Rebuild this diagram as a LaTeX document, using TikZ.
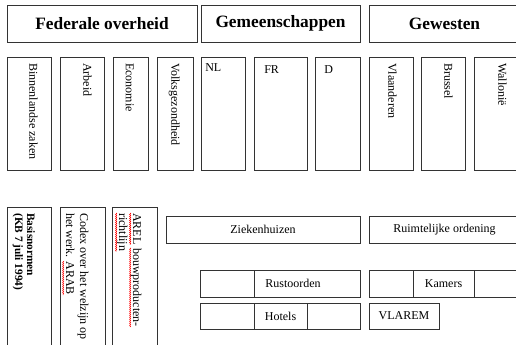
\documentclass[tikz,border=0pt]{standalone}
\usepackage{fontspec}
\setmainfont{Liberation Serif}
\usetikzlibrary{positioning,calc,fit,decorations.pathmorphing}

\tikzset{
  vak/.style={draw=black!80, line width=0.75pt, inner sep=0pt},
  kop/.style={font=\fontsize{13}{15}\selectfont\bfseries},
  tekst/.style={font=\fontsize{9}{11}\selectfont, inner sep=0pt},
  vtekst/.style={font=\fontsize{9}{10.5}\selectfont, rotate=-90, anchor=north west, inner sep=0pt},
  regel/.style={vtekst, text height=6.5pt, text depth=2pt},
  krul/.style={red, line width=0.4pt, decorate, decoration={zigzag, amplitude=0.4pt, segment length=1.5pt}}
}

\begin{document}
\begin{tikzpicture}[x=0.75pt, y=-0.75pt]
    \useasboundingbox (0,0) rectangle (516,344);
    \clip (0,0) rectangle (516,344);

    % Overheden
    \node[vak, fit={(7,5) (197,42)}] (federaal) {};
    \node[vak, fit={(201,5) (360,42)}] (gemeenschap) {};
    \node[vak, fit={(369,5) (520,42)}] (gewest) {};
    \node[kop] (federaaltekst) at (federaal.center) {Federale overheid};
    \node[kop] (gemeenschaptekst) at (gemeenschap.center) {Gemeenschappen};
    \node[kop] (gewesttekst) at (gewest.center) {Gewesten};

    % Bevoegdheden (kolommen)
    \node[vak, fit={(7,57) (51,170)}] (binnenland) {};
    \node[vak, fit={(60,57) (104,170)}] (arbeid) {};
    \node[vak, fit={(113,57) (148,170)}] (economie) {};
    \node[vak, fit={(157,57) (193,170)}] (volksgezondheid) {};
    \node[vak, fit={(201,57) (245,170)}] (nl) {};
    \node[vak, fit={(254,57) (307,170)}] (fr) {};
    \node[vak, fit={(315,57) (360,170)}] (d) {};
    \node[vak, fit={(369,57) (413,170)}] (vlaanderen) {};
    \node[vak, fit={(421,57) (465,170)}] (brussel) {};
    \node[vak, fit={(474,57) (520,170)}] (wallonie) {};

    \node[vtekst] (binnenlandtekst) at (38,63) {Binnenlandse zaken};
    \node[vtekst] (arbeidtekst) at (92,63) {Arbeid};
    \node[vtekst] (economietekst) at (134,63) {Economie};
    \node[vtekst] (volkstekst) at (180,63) {Volksgezondheid};
    \node[tekst, anchor=north west] (nltekst) at (205,63) {NL};
    \node[tekst, anchor=north west] (frtekst) at (264,65) {FR};
    \node[tekst, anchor=north west] (dtekst) at (324,65) {D};
    \node[vtekst] (vlaanderentekst) at (397,63) {Vlaanderen};
    \node[vtekst] (brusseltekst) at (453,63) {Brussel};
    \node[vtekst] (wallonietekst) at (507,63) {Wallonië};

    % Regelgeving (onder)
    \node[vak, fit={(7,207) (51,350)}] (basis) {};
    \node[vak, fit={(60,207) (105,350)}] (codex) {};
    \node[vak, fit={(112,207) (157,350)}] (arel) {};

    \node[regel, font=\fontsize{8.5}{10}\selectfont\bfseries] (basis1) at (36,213) {Basisnormen};
    \node[regel, font=\fontsize{8.5}{10}\selectfont\bfseries] (basis2) at (24,213) {(KB 7 juli 1994)};

    \node[regel] (codex1) at (89,213) {Codex over het welzijn op};
    \node[regel] (codex2) at (75,213) {het werk.};
    \node[regel] (arab) at ($(codex2.north east)+(0,3)$) {ARAB};
    \draw[krul] (arab.south west) -- (arab.south east);

    \node[regel] (arel1) at (142,213) {AREL};
    \node[regel] (bouw) at ($(arel1.north east)+(0,3)$) {bouwproducten-};
    \node[regel] (richtlijn) at (128,213) {richtlijn};
    \draw[krul] (arel1.south west) -- (arel1.south east);
    \draw[krul] (bouw.south west) -- (bouw.south east);
    \draw[krul] (richtlijn.south west) -- (richtlijn.south east);

    % Sectoren
    \node[vak, fit={(166,216) (360,243)}] (ziekenhuis) {};
    \node[vak, fit={(369,216) (520,243)}] (ruimtelijk) {};
    \node[tekst] (ziekenhuistekst) at (ziekenhuis.center) {Ziekenhuizen};
    \node[tekst] (ruimtelijktekst) at (ruimtelijk.center) {Ruimtelijke ordening};

    \node[vak, fit={(200,270) (254,297)}] (rustleeg) {};
    \node[vak, fit={(254,270) (360,297)}] (rust) {};
    \node[vak, fit={(369,270) (413,297)}] (kamerlinks) {};
    \node[vak, fit={(413,270) (474,297)}] (kamers) {};
    \node[vak, fit={(474,270) (520,297)}] (kamerrechts) {};
    \node[tekst] (rusttekst) at (293,283.5) {Rustoorden};
    \node[tekst] (kamerstekst) at (kamers.center) {Kamers};

    \node[vak, fit={(200,303) (254,329)}] (hotellinks) {};
    \node[vak, fit={(254,303) (307,329)}] (hotels) {};
    \node[vak, fit={(307,303) (360,329)}] (hotelrechts) {};
    \node[vak, fit={(369,303) (439,329)}] (vlarem) {};
    \node[tekst] (hotelstekst) at (hotels.center) {Hotels};
    \node[tekst] (vlaremtekst) at (vlarem.center) {VLAREM};
\end{tikzpicture}
\end{document}
